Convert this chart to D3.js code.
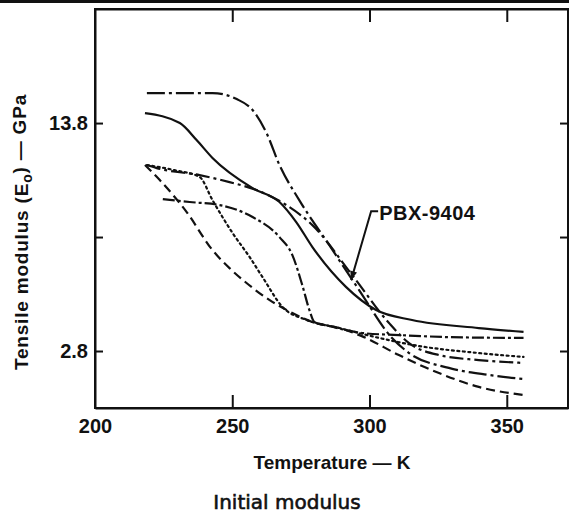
<!DOCTYPE html>
<html><head><meta charset="utf-8">
<script src="https://cdn.jsdelivr.net/npm/d3@7"></script>
<style>body{margin:0;background:#fff} svg{display:block}</style>
</head><body>
<script>
// ---- data (temperature K, tensile modulus GPa) ----
const xTickValues = [200, 250, 300, 350];
const xTickLabels = ["200", "250", "300", "350"];
const yTickValues = [2.758, 8.274, 13.79];
const yTickLabels = ["2.8", "", "13.8"];

const tempA = [218.9, 242.8, 251.6, 257.4, 262.5, 267.2, 274.4, 285.3, 296.2, 308.2, 314.4, 328.9, 343.4, 356.1];
const modA  = [15.24, 15.24, 14.95, 14.42, 13.30, 11.76, 10.06, 7.89, 5.71, 3.39, 2.66, 1.94, 1.60, 1.40];

const tempB = [218.2, 230.9, 237.0, 242.8, 257.4, 267.2, 273.3, 279.2, 291.5, 302.4, 315.5, 339.8, 356.1];
const modB  = [14.27, 13.79, 12.97, 12.10, 10.64, 9.97, 9.00, 7.79, 5.85, 4.74, 4.26, 3.87, 3.68];

const tempC = [218.9, 222.5, 238.1, 249.0, 258.8, 269.7, 279.2, 293.7, 307.1, 314.4, 325.3, 339.8, 356.1];
const modC  = [11.76, 11.61, 11.27, 10.93, 10.55, 9.82, 8.85, 6.43, 4.11, 3.14, 2.56, 2.32, 2.18];

const tempD = [218.9, 229.0, 238.1, 242.8, 250.1, 256.3, 261.0, 268.3, 277.0, 289.0, 303.5, 318.0, 339.8, 356.1];
const modD  = [11.76, 11.51, 11.18, 10.06, 8.47, 7.31, 6.34, 4.89, 4.26, 3.87, 3.39, 3.00, 2.66, 2.47];

const tempE = [218.2, 223.6, 233.4, 242.8, 249.0, 255.2, 263.5, 271.9, 279.2, 289.0, 298.0, 310.7, 325.3, 339.8, 356.1];
const modE  = [11.76, 11.03, 9.48, 7.64, 6.77, 6.05, 5.23, 4.60, 4.16, 3.87, 3.43, 2.56, 1.69, 1.02, 0.63];

const tempF = [224.7, 234.5, 245.4, 257.4, 267.2, 271.9, 275.5, 278.1, 279.9, 285.3, 297.3, 310.7, 328.9, 356.1];
const modF  = [10.11, 9.97, 9.82, 9.24, 8.27, 7.40, 5.95, 4.74, 4.16, 3.97, 3.63, 3.53, 3.43, 3.39];

const annotationText = "PBX-9404";
const annotationLabelAt = [303.5, 9.43];
const annotationTipAt = [293.3, 6.19];

// ---- styles ----
const seriesDefs = [
  {t: tempA, v: modA, dash: "18,4,3,4"},
  {t: tempB, v: modB, dash: null},
  {t: tempC, v: modC, dash: "14,4,3,4"},
  {t: tempD, v: modD, dash: "2,3.5"},
  {t: tempE, v: modE, dash: "9,5"},
  {t: tempF, v: modF, dash: "12,3,3,3"}
];

const W = 569, H = 516;
const m = {left: 95, top: 9, right: 1, bottom: 108};
const iw = W - m.left - m.right, ih = H - m.top - m.bottom;

const svg = d3.select("body").append("svg").attr("width", W).attr("height", H)
  .style("font-family", "'Liberation Sans', Arial, sans-serif");

svg.append("rect").attr("x", 0).attr("y", 0).attr("width", W).attr("height", 3).attr("fill", "#111");

const x = d3.scaleLinear().domain([200, 372.3]).range([0, iw]);
const y = d3.scaleLinear().domain([0, 19.31]).range([ih, 0]);

const g = svg.append("g").attr("transform", `translate(${m.left},${m.top})`);

// frame
g.append("rect").attr("x", 0).attr("y", 0).attr("width", iw).attr("height", ih)
  .attr("fill", "none").attr("stroke", "#111").attr("stroke-width", 2);

const styleAxis = sel => {
  sel.select(".domain").attr("stroke", "#111").attr("stroke-width", 2);
  sel.selectAll(".tick line").attr("stroke", "#111").attr("stroke-width", 2);
  sel.selectAll(".tick text").attr("fill", "#111").style("font-weight", "bold").style("font-size", "20px");
};

const xAxis = d3.axisBottom(x).tickValues(xTickValues)
  .tickFormat((d, i) => xTickLabels[i]).tickSizeInner(-13).tickSizeOuter(0).tickPadding(11);
g.append("g").attr("transform", `translate(0,${ih})`).call(xAxis).call(styleAxis)
  .selectAll(".tick").filter(d => d === 200).select("line").remove();

const xTop = d3.axisTop(x).tickValues(xTickValues.slice(1)).tickFormat("").tickSizeInner(-13).tickSizeOuter(0);
g.append("g").call(xTop).call(styleAxis);

const yAxis = d3.axisLeft(y).tickValues(yTickValues)
  .tickFormat((d, i) => yTickLabels[i]).tickSizeInner(-8).tickSizeOuter(0).tickPadding(7);
g.append("g").call(yAxis).call(styleAxis);

const yRight = d3.axisRight(y).tickValues(yTickValues).tickFormat("").tickSizeInner(-8).tickSizeOuter(0);
g.append("g").attr("transform", `translate(${iw},0)`).call(yRight).call(styleAxis);

// curves
const line = d3.line().x(d => x(d[0])).y(d => y(d[1])).curve(d3.curveMonotoneX);
seriesDefs.forEach(s => {
  const pts = s.t.map((t, i) => [t, s.v[i]]);
  g.append("path").datum(pts).attr("d", line)
    .attr("fill", "none").attr("stroke", "#111").attr("stroke-width", 2.2)
    .attr("stroke-dasharray", s.dash)
    .attr("stroke-linecap", s.dash === "2,3.5" ? "round" : "butt");
});

// annotation
const lx = x(annotationLabelAt[0]), ly = y(annotationLabelAt[1]);
const tx = x(annotationTipAt[0]), ty = y(annotationTipAt[1]);
g.append("text").attr("x", lx).attr("y", ly).attr("dy", "0.36em")
  .attr("fill", "#111").style("font-weight", "bold").style("font-size", "20px")
  .style("letter-spacing", "0.5px").text(annotationText);
const kx = lx - 8;
g.append("path").attr("d", `M${lx - 1},${ly - 2}L${kx},${ly - 2}L${tx},${ty}`)
  .attr("fill", "none").attr("stroke", "#111").attr("stroke-width", 2);
const ang = Math.atan2(ty - (ly - 2), tx - kx);
const ah = 9, aw = 3.5;
const bx = tx - ah * Math.cos(ang), by = ty - ah * Math.sin(ang);
g.append("path").attr("d",
  `M${tx},${ty}L${bx + aw * Math.sin(ang)},${by - aw * Math.cos(ang)}L${bx - aw * Math.sin(ang)},${by + aw * Math.cos(ang)}Z`)
  .attr("fill", "#111");

// titles
svg.append("text").attr("transform", `translate(21,${232}) rotate(-90)`)
  .attr("text-anchor", "middle").attr("dy", "0.35em")
  .attr("fill", "#111").style("font-weight", "bold").style("font-size", "19px")
  .style("letter-spacing", "0.8px")
  .call(t => {
    t.append("tspan").text("Tensile modulus (E");
    t.append("tspan").attr("dy", "0.3em").style("font-size", "14px").text("o");
    t.append("tspan").attr("dy", "-0.3em").text(") \u2014 GPa");
  });

svg.append("text").attr("x", 332).attr("y", 469).attr("text-anchor", "middle")
  .attr("fill", "#111").style("font-weight", "bold").style("font-size", "19px")
  .text("Temperature \u2014 K");

svg.append("text").attr("x", 287).attr("y", 509).attr("text-anchor", "middle")
  .attr("fill", "#111").attr("stroke", "#111").attr("stroke-width", 0.6)
  .style("font-family", "'DejaVu Sans', sans-serif").style("font-size", "20px")
  .text("Initial modulus");
</script>
</body></html>
